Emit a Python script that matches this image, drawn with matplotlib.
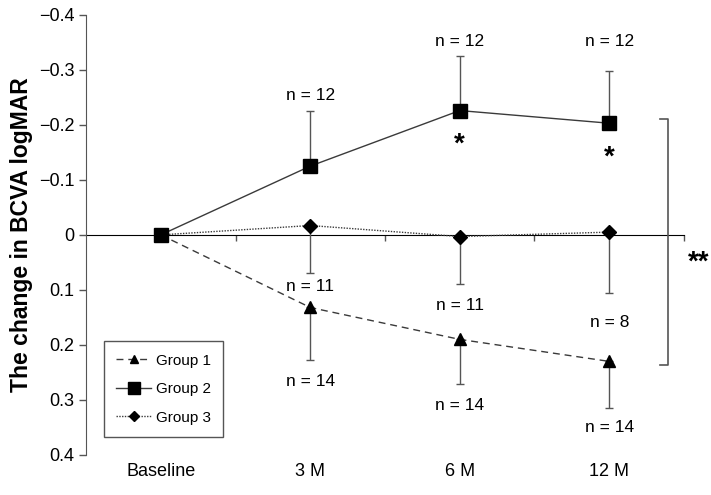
# -*- coding: utf-8 -*-
"""Change in BCVA logMAR by group over follow-up."""
import matplotlib
matplotlib.use("Agg")
import matplotlib.pyplot as plt

plt.rcParams['font.family'] = ['Liberation Sans', 'DejaVu Sans']

# Data
visits = ["Baseline", "3 M", "6 M", "12 M"]
group1 = [0.0, 0.132, 0.19, 0.23]
group2 = [0.0, -0.125, -0.226, -0.203]
group3 = [0.0, -0.017, 0.003, -0.005]
group1_err = [0.0, 0.096, 0.082, 0.084]   # drawn downward
group2_err = [0.0, 0.101, 0.099, 0.095]   # drawn upward
group3_err = [0.0, 0.087, 0.087, 0.110]   # drawn downward
group1_n = ["n = 14", "n = 14", "n = 14"]
group2_n = ["n = 12", "n = 12", "n = 12"]
group3_n = ["n = 11", "n = 11", "n = 8"]

# label placement (y, data units)
group1_n_y = [0.266, 0.31, 0.35]
group2_n_y = [-0.253, -0.352, -0.352]
group3_n_y = [0.094, 0.128, 0.16]

line_c = "#3a3a3a"
x = list(range(len(visits)))


def main():
    fig = plt.figure(figsize=(7.11, 4.95), dpi=100)
    ax = fig.add_axes([0.121, 0.081, 0.841, 0.889])

    ax.plot(x, group1, ls=(0, (5, 3.5)), lw=1, color=line_c, marker='^',
            ms=8, mfc='black', mec='black', label="Group 1", zorder=3)
    ax.plot(x, group3, ls=(0, (1, 1)), lw=1, color=line_c, marker='D',
            ms=7, mfc='black', mec='black', label="Group 3", zorder=3)
    ax.plot(x, group2, ls='-', lw=1, color=line_c, marker='s',
            ms=10, mfc='black', mec='black', label="Group 2", zorder=4)

    xs = x[1:]
    ax.errorbar(xs, group1[1:], yerr=[[0] * 3, group1_err[1:]], fmt='none',
                ecolor='#555555', elinewidth=1, capsize=3, zorder=2)
    ax.errorbar(xs, group3[1:], yerr=[[0] * 3, group3_err[1:]], fmt='none',
                ecolor='#555555', elinewidth=1, capsize=3, zorder=2)
    ax.errorbar(xs, group2[1:], yerr=[group2_err[1:], [0] * 3], fmt='none',
                ecolor='#555555', elinewidth=1, capsize=3, zorder=2)

    for i, xi in enumerate(xs):
        ax.text(xi, group1_n_y[i], group1_n[i], ha='center', va='center', fontsize=12.5)
        ax.text(xi, group2_n_y[i], group2_n[i], ha='center', va='center', fontsize=12.5)
        ax.text(xi, group3_n_y[i], group3_n[i], ha='center', va='center', fontsize=12.5)

    # significance stars
    for xi in xs[1:]:
        ax.text(xi, group2[xi] + 0.062, "*", ha='center', va='center',
                fontsize=20, fontweight='bold')

    # bracket between group 2 and group 1 at 12 M
    bx = 3.39
    top, bot = group2[-1] - 0.008, group1[-1] + 0.006
    ax.plot([bx - 0.05, bx, bx, bx - 0.05], [top, top, bot, bot],
            color='#555555', lw=1.2, clip_on=False)
    ax.text(3.6, 0.05, "**", ha='center', va='center', fontsize=20,
            fontweight='bold', clip_on=False)

    ax.set_xlim(-0.5, 3.5)
    ax.set_ylim(0.4, -0.4)
    ax.set_yticks([-0.4, -0.3, -0.2, -0.1, 0, 0.1, 0.2, 0.3, 0.4])
    ax.set_yticklabels(["\u22120.4", "\u22120.3", "\u22120.2", "\u22120.1",
                        "0", "0.1", "0.2", "0.3", "0.4"])
    ax.set_xticks(x)
    ax.set_xticklabels(visits)
    ax.tick_params(axis='x', length=0, pad=6, labelsize=13)
    ax.tick_params(axis='y', length=5, width=1, color='#555555', labelsize=13)

    for s in ['top', 'right', 'bottom']:
        ax.spines[s].set_visible(False)
    ax.spines['left'].set_color('#555555')

    # zero axis with small ticks between visits
    sec = ax.secondary_xaxis(0.5)
    sec.set_xticks([0.5, 1.5, 2.5, 3.5])
    sec.set_xticklabels([])
    sec.tick_params(direction='in', length=4, width=1, color='#555555')
    sec.spines['bottom'].set_color('#555555')

    ax.set_ylabel("The change in BCVA logMAR", fontsize=16.5, fontweight='bold',
                  labelpad=4)

    leg = ax.legend(handles=[ax.lines[0], ax.lines[2], ax.lines[1]],
                    loc='lower left', bbox_to_anchor=(0.03, 0.041),
                    borderaxespad=0, fancybox=False, edgecolor='#555555',
                    fontsize=11, handlelength=2.3, labelspacing=0.95,
                    borderpad=0.8, handletextpad=0.3, framealpha=1,
                    markerscale=0.8)
    leg.get_frame().set_linewidth(1)

    fig.savefig("out.png", dpi=100)


if __name__ == "__main__":
    main()
